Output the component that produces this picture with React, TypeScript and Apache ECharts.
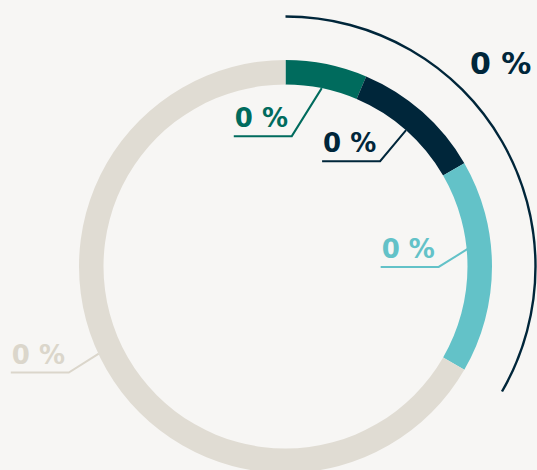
import React, { useEffect, useRef } from "react";
import * as echarts from "echarts";

const categories = ["Segment A", "Segment B", "Segment C", "Segment D"];
const values = [23, 37, 60, 240];
const labelTexts = ["0 %", "0 %", "0 %", "0 %"];
const totalLabel = "0 %";
const colors = ["#006b5d", "#00263a", "#63c2c8", "#e0dcd3"];
const labelColors = ["#006b5d", "#00263a", "#63c2c8", "#dbd6cb"];

// label annotation layout (angle offset from slice middle, anchor radius, elbow offset)
const anchorAngleShift = [0, 0, -5.5, 5];
const anchorRadius = [182, 182, 183, 206];
const elbowDx = [-30, -26, -29, -30];
const elbowDy = [48, 31, 18, 19];
const underlineLength = 58;

const CX = 285.5;
const CY = 266.5;

function polar(deg: number, r: number): [number, number] {
  const a = (deg * Math.PI) / 180;
  return [CX + r * Math.sin(a), CY - r * Math.cos(a)];
}

export default function App() {
  const ref = useRef<HTMLDivElement>(null);
  useEffect(() => {
    if (!ref.current) return;
    const chart = echarts.init(ref.current, null, { renderer: "svg" });
    const total = values.reduce((s, v) => s + v, 0);
    const graphics: any[] = [];
    let acc = 0;
    values.forEach((v, i) => {
      const mid = ((acc + v / 2) / total) * 360;
      acc += v;
      const anchor = polar(mid + anchorAngleShift[i], anchorRadius[i]);
      const elbow: [number, number] = [anchor[0] + elbowDx[i], anchor[1] + elbowDy[i]];
      const end: [number, number] = [elbow[0] - underlineLength, elbow[1]];
      graphics.push({
        type: "polyline",
        silent: true,
        shape: { points: [anchor, elbow, end] },
        style: { stroke: labelColors[i], lineWidth: 2, fill: null },
      });
      graphics.push({
        type: "text",
        silent: true,
        x: end[0] + 1,
        y: elbow[1] - 18,
        style: {
          text: labelTexts[i],
          fill: labelColors[i],
          font: 'bold 26px "DejaVu Sans"',
          align: "left",
          verticalAlign: "middle",
        },
      });
    });
    graphics.push({
      type: "text",
      silent: true,
      x: 470,
      y: 63,
      style: {
        text: totalLabel,
        fill: colors[1],
        font: 'bold 30px "DejaVu Sans"',
        align: "left",
        verticalAlign: "middle",
      },
    });
    const highlighted = values.slice(0, 3).reduce((s, v) => s + v, 0);
    chart.setOption({
      animation: false,
      backgroundColor: "#f7f6f4",
      series: [
        {
          type: "pie",
          silent: true,
          center: [CX, CY],
          radius: [182, 206.5],
          startAngle: 90,
          clockwise: true,
          label: { show: false },
          labelLine: { show: false },
          emphasis: { disabled: true },
          itemStyle: { borderWidth: 0 },
          data: values.map((v, i) => ({
            name: categories[i],
            value: v,
            itemStyle: { color: colors[i] },
          })),
        },
        {
          type: "pie",
          silent: true,
          center: [CX, CY],
          radius: [248.8, 251.2],
          startAngle: 90,
          clockwise: true,
          label: { show: false },
          labelLine: { show: false },
          emphasis: { disabled: true },
          itemStyle: { borderWidth: 0 },
          data: [
            { name: "Highlighted", value: highlighted, itemStyle: { color: colors[1] } },
            { name: "Rest", value: total - highlighted, itemStyle: { color: "rgba(0,0,0,0)" } },
          ],
        },
      ],
      graphic: graphics,
    });
    return () => chart.dispose();
  }, []);
  return (
    <div
      ref={ref}
      style={{ position: "fixed", left: 0, top: 0, width: 537, height: 470 }}
    />
  );
}
